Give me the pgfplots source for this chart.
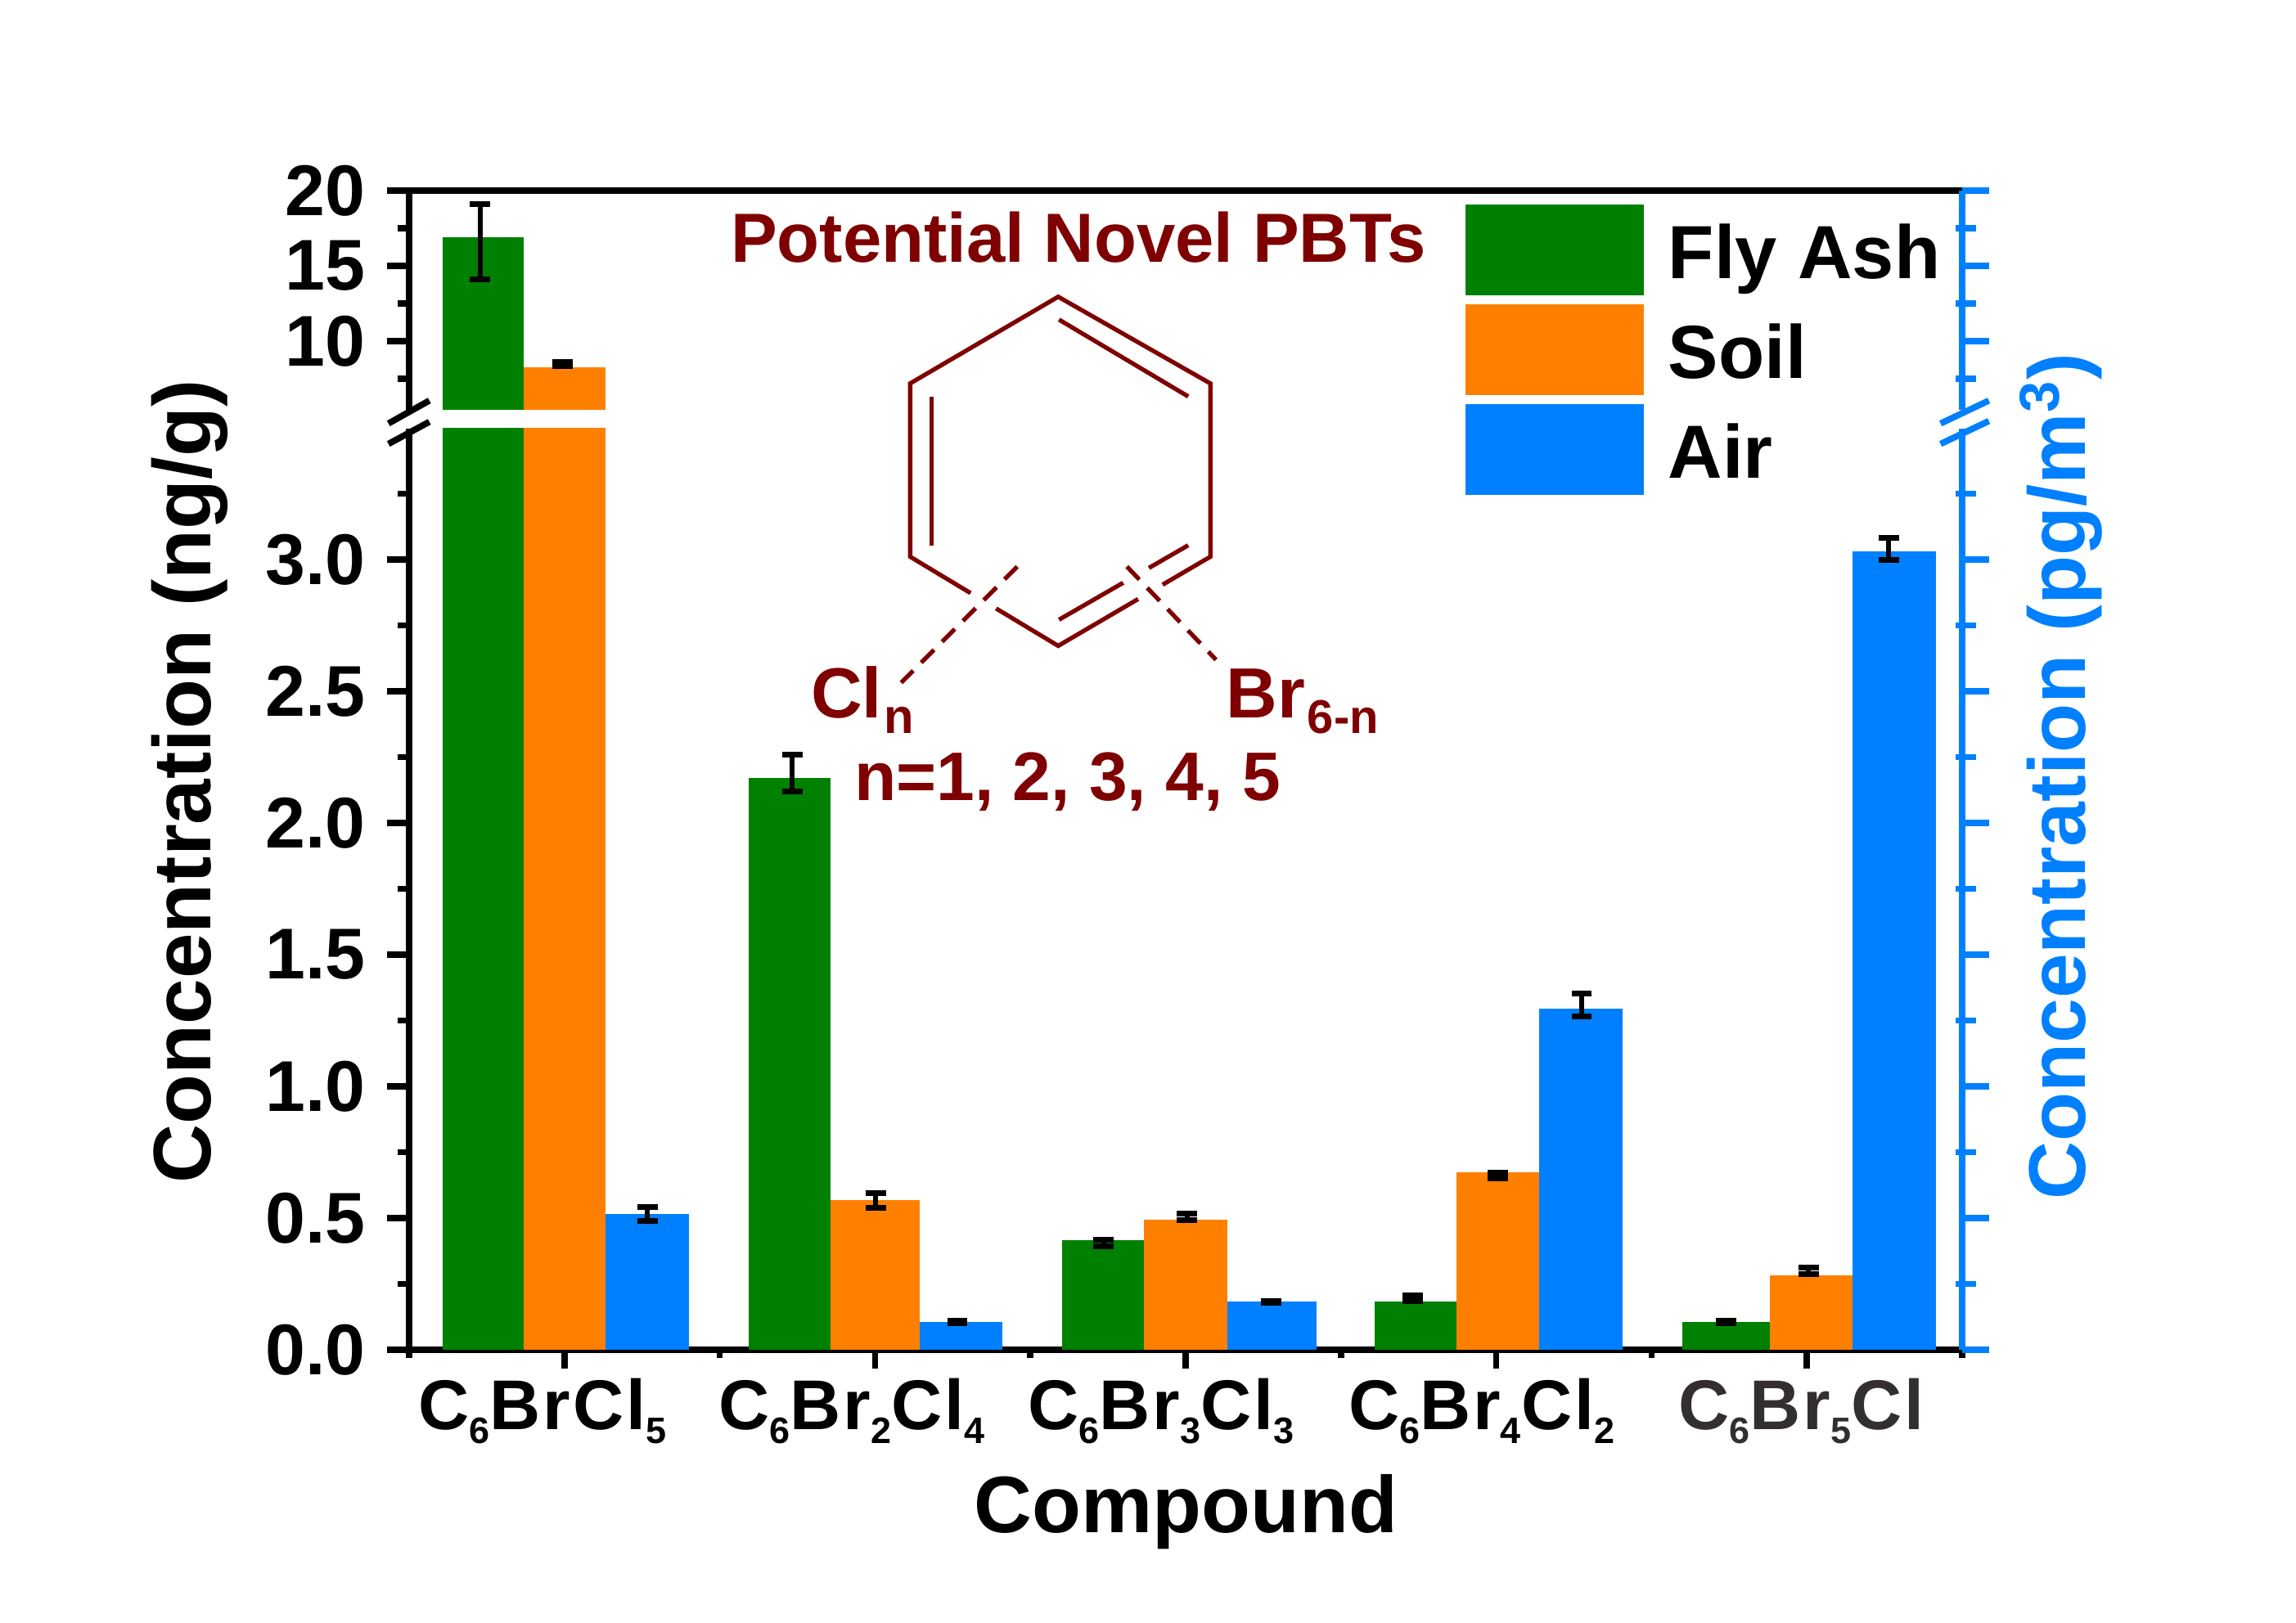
\documentclass[border=0pt]{standalone}
\usepackage{fontspec}
\setmainfont{Liberation Sans}
\usepackage{pgfplots}
\usepackage{pgfplotstable}
\pgfplotsset{compat=1.18}
\definecolor{flyash}{RGB}{0,128,0}
\definecolor{soil}{RGB}{255,128,0}
\definecolor{air}{RGB}{0,128,255}
\definecolor{pbt}{RGB}{127,0,0}

% 1 px of the reference = 0.01cm here
\newcommand{\fs}[1]{\fontsize{#1}{#1}\selectfont\bfseries}
\newcommand{\sub}[1]{\raisebox{-1.7mm}{\fontsize{12.8}{12.8}\selectfont #1}}
\newcommand{\formula}[2]{\addfontfeature{LetterSpace=3.4}#1\hspace*{#2}}

% x, half of the two error caps apart
\pgfplotstableread{
x      y      e
0.729  16.58  2.50
0.993  8.47   0.12
1.267  0.515  0.027
1.733  2.19   0.07
2.002  0.568  0.028
2.265  0.106  0.004
2.736  0.405  0.012
3.005  0.505  0.012
3.274  0.183  0.003
3.732  0.196  0.010
4.006  0.661  0.010
4.275  1.309  0.042
4.741  0.106  0.004
5.005  0.300  0.012
5.263  3.040  0.042
}\errtable

\newcommand{\onebar}[4]{\addplot[ybar,forget plot,fill=#1,draw=none,bar width=#2,bar shift=0pt] coordinates {(#3,#4)};}
\newcommand{\allbars}{%
  \onebar{flyash}{0.261}{0.738}{16.9}
  \onebar{soil}{0.263}{1.0005}{8.26}
  \onebar{air}{0.269}{1.267}{0.517}
  \onebar{flyash}{0.263}{1.725}{2.17}
  \onebar{soil}{0.287}{2.000}{0.568}
  \onebar{air}{0.266}{2.277}{0.106}
  \onebar{flyash}{0.263}{2.734}{0.416}
  \onebar{soil}{0.269}{3.000}{0.494}
  \onebar{air}{0.287}{3.278}{0.183}
  \onebar{flyash}{0.263}{3.740}{0.183}
  \onebar{soil}{0.266}{4.005}{0.673}
  \onebar{air}{0.269}{4.272}{1.295}
  \onebar{flyash}{0.282}{4.740}{0.106}
  \onebar{soil}{0.266}{5.014}{0.283}
  \onebar{air}{0.269}{5.281}{3.03}
  \addplot[forget plot,draw=none,no marks,
    error bars/.cd,y dir=both,y explicit,
    error bar style={black,line width=1.8pt},
    error mark options={black,rotate=90,mark size=3.55pt,line width=2pt}]
    table[x=x,y=y,y error=e]{\errtable};
}

\pgfplotsset{
  brk/.style={
    scale only axis,width=18.98cm,xmin=0.5,xmax=5.5,
    tick align=outside,
    axis line style={line width=2.3pt},
    major tick length=0.27cm,minor tick length=0.14cm,
    tick style={line width=2.2pt,black},
    /pgf/number format/assume math mode=true,
  },
  lowpart/.style={brk,at={(5cm,3.34cm)},height=11.26cm,ymin=0,ymax=3.497,
    ytick={0,0.5,1,1.5,2,2.5,3},
    minor ytick={0.25,0.75,1.25,1.75,2.25,2.75,3.25}},
  uppart/.style={brk,at={(5cm,14.83cm)},height=2.68cm,ymin=5.43,ymax=20,
    ytick={10,15,20},minor ytick={7.5,12.5,17.5}},
  bluey/.style={axis x line=none,axis y line*=right,yticklabels={},
    axis line style={air,line width=2.3pt},
    major tick length=0.33cm,minor tick length=0.25cm,
    tick style={air,line width=2.2pt},
    minor y tick style={xshift=-0.08cm}},
}

\begin{document}
\begin{tikzpicture}
\path[use as bounding box] (0,0) rectangle (28.06,19.84);

% lower part
\begin{axis}[lowpart,
    axis x line*=bottom,axis y line*=left,
    xtick={1,2,3,4,5},minor xtick={0.5,1.5,2.5,3.5,4.5,5.5},
    major x tick style={yshift=0.04cm},
    minor x tick style={yshift=0.04cm},
    xticklabels={{\formula{C\sub{6}BrCl\sub{5}}{0.54cm}},{\formula{C\sub{6}Br\sub{2}Cl\sub{4}}{0.57cm}},{\formula{C\sub{6}Br\sub{3}Cl\sub{3}}{0.6cm}},{\formula{C\sub{6}Br\sub{4}Cl\sub{2}}{0.36cm}},{\color[RGB]{51,47,47}\formula{C\sub{6}Br\sub{5}Cl}{0.14cm}}},
    xticklabel style={font=\fs{24.5},anchor=base,yshift=-0.705cm},
    yticklabel style={font=\fs{25},xshift=-0.14cm,/pgf/number format/fixed,/pgf/number format/fixed zerofill,/pgf/number format/precision=1},
  ]
\allbars
\end{axis}

% upper part with the legend
\begin{axis}[uppart,
    axis x line*=top,axis y line*=left,xtick=\empty,
    yticklabel style={font=\fs{25},xshift=-0.14cm},
    legend image code/.code={\fill[#1] (0cm,-0.505cm) rectangle (2.18cm,0.605cm);\path (2.48cm,0cm);},
    legend style={at={(0.6797,0.94)},anchor=north west,draw=none,fill=none,inner sep=0pt,
      font=\fs{26.2},row sep=0.11cm,nodes={inner sep=0pt}},
    legend cell align=left,
  ]
\allbars
\addlegendimage{fill=flyash,draw=none}\addlegendentry{Fly Ash}
\addlegendimage{fill=soil,draw=none}\addlegendentry{Soil}
\addlegendimage{fill=air,draw=none}\addlegendentry{Air}
\end{axis}

% right-hand scale
\begin{axis}[lowpart,bluey]
\addplot[forget plot,draw=none] coordinates {(1,0)};
\end{axis}
\begin{axis}[uppart,bluey]
\addplot[forget plot,draw=none] coordinates {(1,10)};
\end{axis}

\begin{scope}[x=0.01cm,y=-0.01cm,shift={(0,19.84cm)}]
  % breaks in the spines
  \draw[line width=2.2pt,black] (475,518) -- (525,490) (475,543) -- (525,516);
  \draw[line width=2.2pt,air] (2373,518) -- (2432,490) (2373,543) -- (2432,515);

  % axis titles
  \node[anchor=base,font=\fs{27.9}] at (1450,1875) {Compound};
  \node[anchor=base,rotate=90,font=\fs{28.4}] at (258,956) {Concentration (ng/g)};
  \node[anchor=base,rotate=90,font=\fs{28},text=air] at (2550,950) {Concentration (pg/m\textsuperscript{3})};

  % title and structure
  \node[anchor=base west,inner sep=0pt,font=\fs{24.2},text=pbt] at (893,321) {Potential Novel PBTs};
  \begin{scope}[draw=pbt,line width=1.5pt,line join=miter]
    \draw (1294,363) -- (1480,469) -- (1480,681) -- (1294,790) -- (1113,681) -- (1113,469) -- cycle;
    \draw (1295,391) -- (1453,485);
    \draw (1139,485) -- (1139,667);
    \draw (1295,758) -- (1453,667);
    \draw[white,line width=5pt] (1188,724) -- (1218,744);
    \draw[white,line width=5pt] (1392,733) -- (1422,716);
    \draw[white,line width=5pt] (1375,715) -- (1405,695);
    \draw[dash pattern=on 0.22cm off 0.14cm] (1244,693) -- (1102,835);
    \draw[dash pattern=on 0.22cm off 0.14cm] (1378,693) -- (1487,807);
  \end{scope}
  \node[anchor=base west,inner sep=0pt,font=\fs{24.7},text=pbt] at (991,878) {Cl};
  \node[anchor=base west,inner sep=0pt,font=\fs{17},text=pbt] at (1080,897) {n};
  \node[anchor=base west,inner sep=0pt,font=\fs{24.7},text=pbt] at (1499,878) {Br};
  \node[anchor=base west,inner sep=0pt,font=\fs{16.5},text=pbt] at (1598,897) {6-n};
  \node[anchor=base west,inner sep=0pt,font=\fs{23.9},text=pbt] at (1044,979) {n=1, 2, 3, 4, 5};
\end{scope}
\end{tikzpicture}
\end{document}
